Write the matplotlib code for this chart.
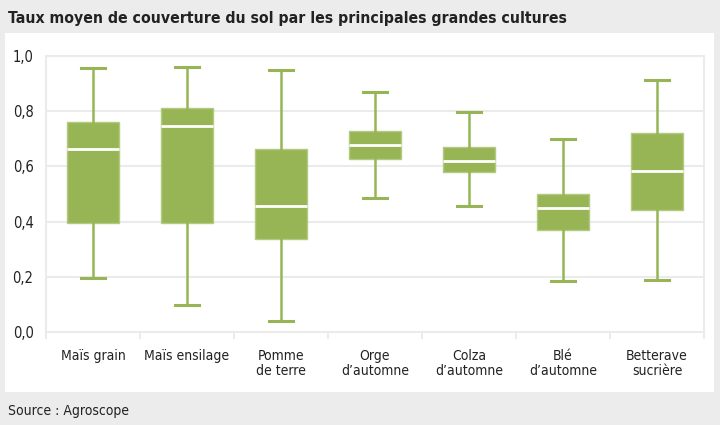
import matplotlib.pyplot as plt
from matplotlib.patches import Rectangle
from matplotlib.ticker import FuncFormatter, FixedLocator

# Valeurs
cultures = ['Maïs grain', 'Maïs ensilage', 'Pomme\nde terre', 'Orge\nd\u2019automne',
            'Colza\nd\u2019automne', 'Blé\nd\u2019automne', 'Betterave\nsucrière']
minimum = [0.197, 0.097, 0.041, 0.487, 0.456, 0.185, 0.188]
q1 = [0.396, 0.396, 0.338, 0.628, 0.581, 0.368, 0.442]
mediane = [0.662, 0.748, 0.458, 0.679, 0.618, 0.449, 0.584]
q3 = [0.760, 0.813, 0.663, 0.727, 0.669, 0.501, 0.722]
maximum = [0.955, 0.961, 0.949, 0.868, 0.797, 0.700, 0.913]

vert = '#97b555'
gris = '#ebebeb'
plt.rcParams['font.family'] = ['DejaVu Sans']
plt.rcParams['font.stretch'] = 'condensed'

fig = plt.figure(figsize=(7.2, 4.25), dpi=100)
fig.patch.set_facecolor('#ececec')
# panneau blanc
fig.patches.append(Rectangle((5 / 720, 1 - 392 / 425), 709 / 720, 359 / 425,
                             transform=fig.transFigure, facecolor='white',
                             edgecolor='none', zorder=-1))

ax = fig.add_axes([46 / 720, 1 - 332 / 425, 658 / 720, 276 / 425])
ax.set_zorder(2)

stats = []
for i in range(len(cultures)):
    stats.append({'whislo': minimum[i], 'q1': q1[i], 'med': mediane[i],
                  'q3': q3[i], 'whishi': maximum[i], 'fliers': []})

ax.bxp(stats, positions=range(len(cultures)), widths=0.55, capwidths=0.25,
       patch_artist=True, showfliers=False,
       boxprops=dict(facecolor=vert, edgecolor='#b3cb80', linewidth=1),
       whiskerprops=dict(color=vert, linewidth=1.8),
       capprops=dict(color=vert, linewidth=2.2),
       medianprops=dict(color='white', linewidth=2))

ax.set_xlim(-0.5, len(cultures) - 0.5)
ax.set_ylim(0, 1.0)
ax.set_yticks([0, 0.2, 0.4, 0.6, 0.8, 1.0])
ax.yaxis.set_major_formatter(FuncFormatter(lambda v, p: f'{v:.1f}'.replace('.', ',')))
ax.set_xticks(range(len(cultures)))
ax.set_xticklabels(cultures, fontsize=10, linespacing=1.15, color='#222222')
ax.xaxis.set_minor_locator(FixedLocator([i + 0.5 for i in range(-1, len(cultures))]))
ax.tick_params(axis='x', which='major', length=0, pad=12)
ax.tick_params(axis='x', which='minor', length=5, color=gris, width=1.5)
ax.tick_params(axis='y', length=0, pad=9, labelsize=10.5, labelcolor='#222222')
ax.grid(axis='y', color=gris, linewidth=1.5)
ax.set_axisbelow(True)
for s in ax.spines.values():
    s.set_color(gris)
    s.set_linewidth(1.5)

fig.text(8 / 720, 1 - 18 / 425, 'Taux moyen de couverture du sol par les principales grandes cultures',
         fontsize=11.3, fontweight='bold', color='#222222', va='center', ha='left')
fig.text(8 / 720, 1 - 411 / 425, 'Source : Agroscope', fontsize=10,
         color='#222222', va='center', ha='left')

fig.savefig('out.png', dpi=100, facecolor=fig.get_facecolor())
